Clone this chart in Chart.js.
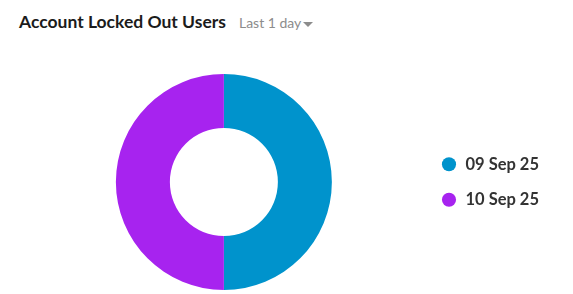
<!DOCTYPE html>
<html>
<head>
<meta charset="utf-8">
<script src="https://cdn.jsdelivr.net/npm/chart.js@4"></script>
<style>
  body { margin: 0; background: #fff; font-family: Lato, sans-serif; }
  .header { position: absolute; left: 19px; top: 11px; white-space: nowrap; }
  .title { font-size: 17.5px; font-weight: 700; color: #1b1b1b; }
  .range { font-size: 14px; color: #8c8c8c; margin-left: 13px; }
  .caret { display: inline-block; width: 0; height: 0; border-left: 5px solid transparent;
           border-right: 5px solid transparent; border-top: 5px solid #8c8c8c; vertical-align: middle; margin-left: 2px; }
  .wrap { position: absolute; left: 0; top: 70px; width: 573px; height: 224px; }
</style>
</head>
<body>
<div class="header">
  <span class="title">Account Locked Out Users</span><span class="range">Last 1 day<span class="caret"></span></span>
</div>
<div class="wrap"><canvas id="chart"></canvas></div>
<script>
const dates = ['09 Sep 25', '10 Sep 25'];
const lockedOut = [1, 1];
const sliceColors = ['#0093cc', '#a723ef'];

const ctx = document.getElementById('chart').getContext('2d');
new Chart(ctx, {
  type: 'doughnut',
  data: {
    labels: dates,
    datasets: [{
      data: lockedOut,
      backgroundColor: sliceColors,
      borderWidth: 0,
    }]
  },
  options: {
    responsive: true,
    maintainAspectRatio: false,
    animation: false,
    cutout: '50%',
    layout: { padding: { top: 4, bottom: 4, left: 26, right: 24 } },
    plugins: {
      tooltip: { enabled: false },
      legend: {
        position: 'right',
        labels: {
          usePointStyle: true,
          pointStyle: 'circle',
          boxWidth: 19.5,
          boxHeight: 10,
          padding: 19,
          color: '#333',
          font: { family: 'Lato', size: 16.5, weight: 'bold' }
        }
      }
    }
  }
});
</script>
</body>
</html>
